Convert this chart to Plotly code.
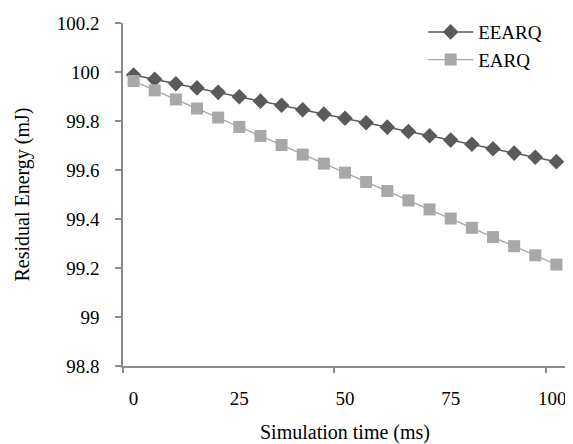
import plotly.graph_objects as go

sim_time = [0, 5, 10, 15, 20, 25, 30, 35, 40, 45, 50, 55, 60, 65, 70, 75, 80, 85, 90, 95, 100]
eearq = [99.988, 99.970, 99.952, 99.935, 99.917, 99.899, 99.881, 99.864, 99.846, 99.828,
         99.811, 99.793, 99.775, 99.757, 99.740, 99.722, 99.705, 99.687, 99.669, 99.652, 99.634]
earq = [99.963, 99.925, 99.888, 99.851, 99.814, 99.776, 99.739, 99.702, 99.663, 99.626,
        99.589, 99.551, 99.514, 99.476, 99.439, 99.402, 99.364, 99.326, 99.289, 99.252, 99.214]
x_tick_text = ["0", "25", "50", "75", "100"]
x_tick_pos = [0, 25, 50, 75, 99]  # last label nudged inside, as in the source chart
y_ticks = [98.8, 99.0, 99.2, 99.4, 99.6, 99.8, 100.0, 100.2]
y_labels = ["98.8", "99", "99.2", "99.4", "99.6", "99.8", "100", "100.2"]
boundary_ticks = [-2.5, 47.5, 97.5]

font_family = "Liberation Serif, Times New Roman, serif"
axis_color = "#8c8c8c"
xrange = [-2.5, 102.5]

fig = go.Figure()
fig.add_trace(go.Scatter(
    x=sim_time, y=eearq, name="EEARQ", mode="lines+markers",
    line=dict(color="#5a5a5a", width=1.5),
    marker=dict(symbol="diamond", size=12, color="#5a5a5a"),
))
fig.add_trace(go.Scatter(
    x=sim_time, y=earq, name="EARQ", mode="lines+markers",
    line=dict(color="#a8a8a8", width=1.3),
    marker=dict(symbol="square", size=12, color="#a8a8a8"),
))
# invisible trace to host the category-boundary tick axis
fig.add_trace(go.Scatter(
    x=sim_time, y=eearq, xaxis="x2", mode="lines", showlegend=False,
    line=dict(color="rgba(0,0,0,0)"), hoverinfo="skip",
))

fig.update_layout(
    width=565, height=436,
    margin=dict(l=115, r=6, t=14, b=78),
    paper_bgcolor="white", plot_bgcolor="white",
    font=dict(family=font_family, size=19, color="#000000"),
    showlegend=True,
    legend=dict(
        x=0.676, y=1.026, xanchor="left", yanchor="top",
        bgcolor="rgba(0,0,0,0)", font=dict(size=19, family=font_family),
        itemwidth=45, tracegroupgap=0,
    ),
    xaxis=dict(
        range=xrange, tickvals=x_tick_pos, ticktext=x_tick_text,
        ticks="", showline=True, linecolor=axis_color, linewidth=1.5,
        showgrid=False, zeroline=False, ticklabelstandoff=14, automargin=False,
        tickfont=dict(family=font_family, size=19),
        title=dict(text="Simulation time (ms)", standoff=23,
                   font=dict(family=font_family, size=20)),
    ),
    xaxis2=dict(
        range=xrange, overlaying="x", side="bottom", tickvals=boundary_ticks,
        ticks="outside", ticklen=6, tickcolor=axis_color, tickwidth=1.5,
        showticklabels=False, showgrid=False, zeroline=False, showline=False,
        automargin=False,
    ),
    yaxis=dict(
        range=[98.8, 100.2], tickvals=y_ticks, ticktext=y_labels,
        ticks="outside", ticklen=6, tickcolor=axis_color, tickwidth=1.5,
        showline=True, linecolor=axis_color, linewidth=1.5, automargin=False,
        showgrid=False, zeroline=False, ticklabelstandoff=12,
        tickfont=dict(family=font_family, size=19),
        title=dict(text="Residual Energy (mJ)", standoff=22,
                   font=dict(family=font_family, size=20)),
    ),
)

fig.write_html("out.html")
